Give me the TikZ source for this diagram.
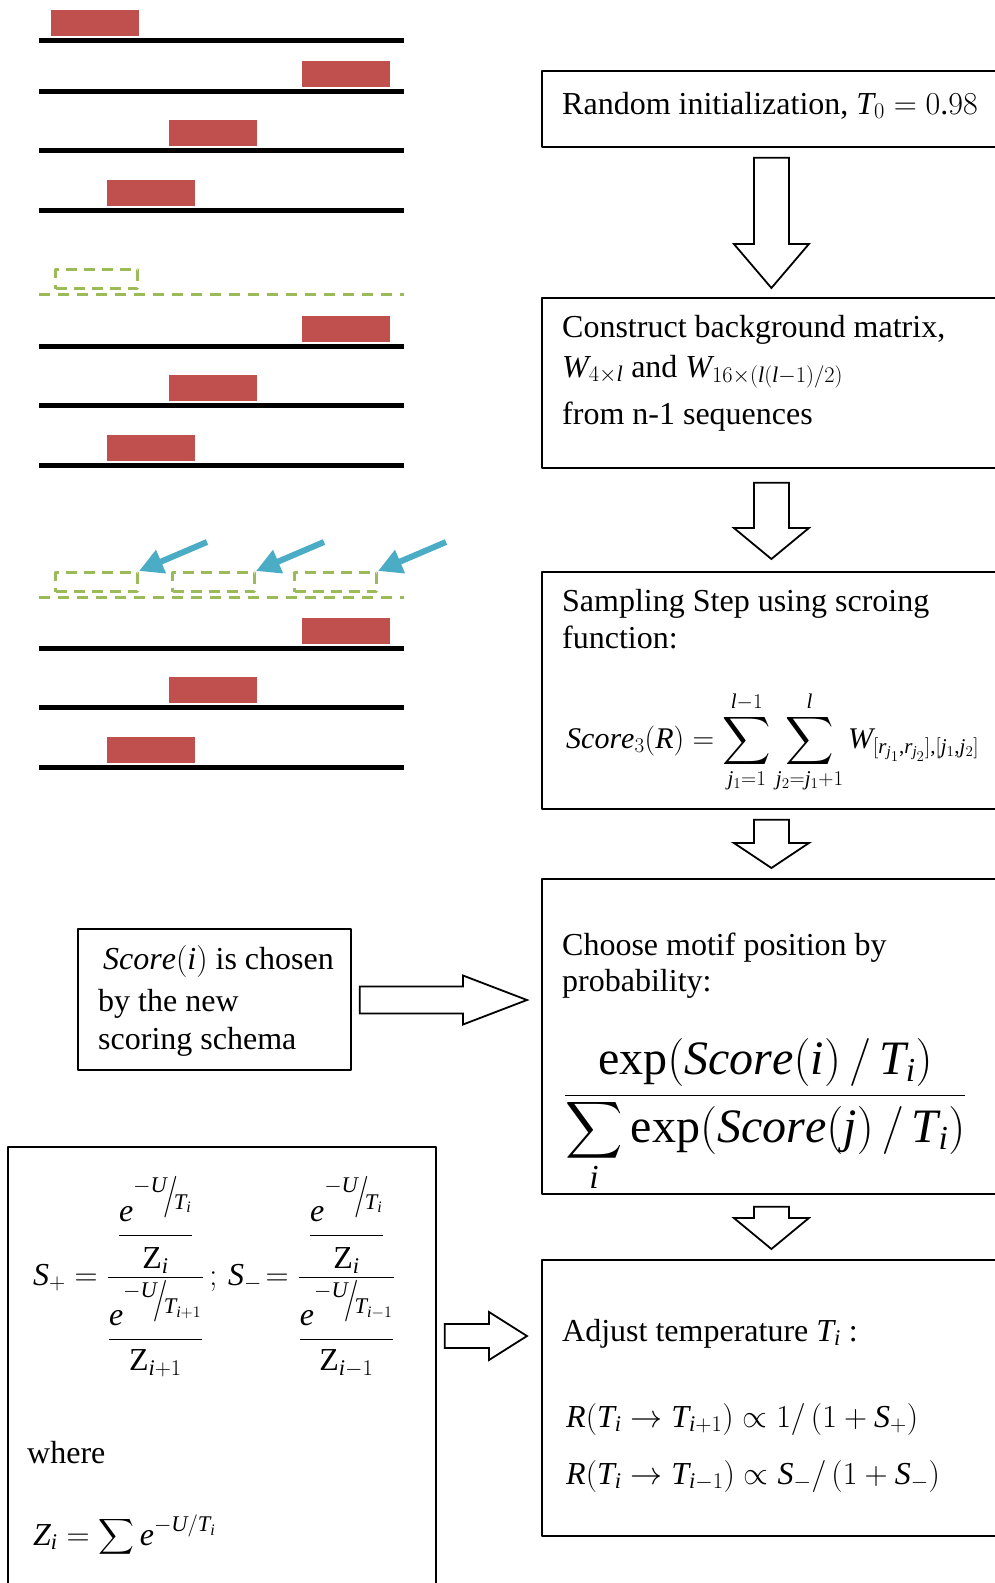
\RequirePackage{fix-cm}
\documentclass[tikz,border=0pt]{standalone}
\usepackage{amsmath}
\usepackage{graphicx}
\usepackage{fontspec}
\setmainfont{Liberation Serif}
\DeclareSymbolFont{letters}{TU}{\rmdefault}{m}{it}
\AtBeginDocument{\mathcode`\.="002E \mathcode`\,="602C}
\usetikzlibrary{calc,arrows.meta}
\definecolor{seqred}{HTML}{C0504D}
\definecolor{gapgreen}{HTML}{9BBB59}
\definecolor{hintblue}{HTML}{4BACC6}
% hollow arrow pointing down, between two boxes
\newcommand{\fatdown}[5]{%
  \draw[blockarrow] ($(#1.south)+(-17.5,#3)$) -- ($(#2.north)+(-17.5,-#4-#5)$)
    -- ++(-20,0) -- ($(#2.north)+(0,-#4)$) -- ($(#2.north)+(37.5,-#4-#5)$)
    -- ++(-20,0) -- ($(#1.south)+(17.5,#3)$) -- cycle;}
% hollow arrow pointing right
\newcommand{\fatright}[6]{%
  \draw[blockarrow] ($(#1.east|-#3)+(8,-#4)$) -- ($(#2.west|-#3)+(-14-#6,-#4)$)
    -- ($(#2.west|-#3)+(-14-#6,-#5)$) -- ($(#2.west|-#3)+(-14,0)$)
    -- ($(#2.west|-#3)+(-14-#6,#5)$) -- ($(#2.west|-#3)+(-14-#6,#4)$)
    -- ($(#1.east|-#3)+(8,#4)$) -- cycle;}
\newcommand{\slantfrac}[2]{\mbox{\raisebox{0.5em}{$\scriptstyle #1$}\kern-0.12em\raisebox{0.05em}{\scalebox{1}[1.3]{$/$}}\kern-0.12em\raisebox{-0.02em}{$\scriptstyle #2$}}}
\newcommand{\bigsum}[1]{\mathop{\vcenter{\hbox{\scalebox{#1}{$\displaystyle\sum$}}}}}
\begin{document}
\begin{tikzpicture}[x=1pt, y=-1pt, line join=round,
  box/.style={draw, line width=1.8pt, anchor=north west, inner sep=0pt, minimum width=459pt},
  txt/.style={anchor=base west, inner sep=0pt, font=\fontsize{32}{40}\selectfont},
  blockarrow/.style={draw, line width=1.8pt, fill=white, line join=miter},
  seqline/.style={line width=5pt},
  gapbox/.style={draw=gapgreen, line width=3pt, dash pattern=on 11pt off 7pt, anchor=north west,
    inner sep=0pt, minimum width=82pt, minimum height=19pt},
  gapline/.style={gapgreen, line width=3pt, dash pattern=on 11pt off 8pt},
  pointer/.style={hintblue, line width=6pt, -{Triangle[length=24pt,width=24pt]}}]
\path[use as bounding box, clip] (0,0) rectangle (995,1583);

% sequences
\foreach \y/\x in {40/51, 91/302, 150/169, 210/107, 346/302, 405/169, 465/107, 648/302, 707/169, 767/107}{
  \fill[seqred] (\x,\y-30) rectangle ++(88,26);
  \draw[seqline] (39,\y) -- (404,\y);
}
\draw[gapline] (39,294) -- (404,294);
\draw[gapline] (39,597) -- (404,597);
\node[gapbox] (gapa) at (54,268) {};
\node[gapbox] (gapb1) at (54,571) {};
\node[gapbox] (gapb2) at (171,571) {};
\node[gapbox] (gapb3) at (293,571) {};
\foreach \g in {gapb1,gapb2,gapb3}
  \draw[pointer] ($(\g.north east)+(68,-29)$) -- (\g.north east);

% flow boxes
\node[box, minimum height=76pt] (init) at (541,70) {};
\node[box, minimum height=170pt] (bgmat) at (541,297) {};
\node[box, minimum height=237pt] (sample) at (541,571) {};
\node[box, minimum height=315pt] (choose) at (541,878) {};
\node[box, minimum height=276pt] (adjust) at (541,1259) {};
\node[box, minimum width=273pt, minimum height=141pt] (newscore) at (77,928) {};
\node[box, minimum width=428pt, minimum height=520pt] (tempbox) at (7,1146) {};

\node[txt] (initt) at (562,114) {Random initialization, $T_0=0.98$};
\node[txt] (bga) at (562,337) {Construct background matrix,};
\node[txt] (bgb) at (562,377) {$W_{4\times l}$ and $W_{16\times(l(l-1)/2)}$};
\node[txt] (bgc) at (562,424) {from n-1 sequences};
\node[txt] (sma) at (562,611) {Sampling Step using scroing};
\node[txt] (smb) at (562,648) {function:};
\node[txt, font=\fontsize{30}{36}\selectfont] (smf) at (566,748)
  {$\displaystyle \mathit{Score}_3(R)=\bigsum{1.35}\limits_{j_1=1}^{l-1}\bigsum{1.35}\limits_{j_2=j_1+1}^{l}W_{[r_{j_1},r_{j_2}],[j_1,j_2]}$};
\node[txt] (cha) at (562,955) {Choose motif position by};
\node[txt] (chb) at (562,991) {probability:};
\node[txt, font=\fontsize{48}{56}\selectfont] (chf) at (564,1107)
  {$\displaystyle\frac{\exp(\mathit{Score}(i)\,/\,T_i)}{\bigsum{1.6}\limits_{i}\exp(\mathit{Score}(j)\,/\,T_i)}$};
\node[txt] (ada) at (562,1341) {Adjust temperature $T_i$\ :};
\node[txt] (adb) at (566,1427) {$R(T_i\rightarrow T_{i+1})\propto 1/\,(1+S_+)$};
\node[txt] (adc) at (566,1484) {$R(T_i\rightarrow T_{i-1})\propto S_-/\,(1+S_-)$};
\node[txt] (nsa) at (103,969) {$\mathit{Score}(i)$ is chosen};
\node[txt] (nsb) at (98,1011) {by the new};
\node[txt] (nsc) at (98,1049) {scoring schema};
\node[txt] (tpf) at (33,1285)
  {$S_+=\dfrac{\dfrac{e^{\slantfrac{-U}{T_i}}\rule[-0.35em]{0pt}{0pt}}{\mathrm{Z}_i\rule{0pt}{0.92em}}}{\dfrac{e^{\slantfrac{-U}{T_{i+1}}}\rule[-0.3em]{0pt}{0pt}}{\mathrm{Z}_{i+1}\rule{0pt}{0.88em}}}\,;\,
    S_-\!=\dfrac{\dfrac{e^{\slantfrac{-U}{T_i}}\rule[-0.35em]{0pt}{0pt}}{\mathrm{Z}_i\rule{0pt}{0.92em}}}{\dfrac{e^{\slantfrac{-U}{T_{i-1}}}\rule[-0.3em]{0pt}{0pt}}{\mathrm{Z}_{i-1}\rule{0pt}{0.88em}}}$};
\node[txt] (tpw) at (27,1463) {where};
\node[txt] (tpz) at (33,1545) {$Z_i=\displaystyle\sum e^{-U/T_i}$};

% connectors
\fatdown{init}{bgmat}{10}{9}{44}
\fatdown{bgmat}{sample}{14}{12}{31}
\fatdown{sample}{choose}{10}{10}{25}
\fatdown{choose}{adjust}{12}{10}{31}
\coordinate (p1) at (0,1000);
\coordinate (p2) at (0,1336);
\fatright{newscore}{choose}{p1}{13.5}{24.5}{64}
\fatright{tempbox}{adjust}{p2}{12}{24}{38}
\end{tikzpicture}
\end{document}
